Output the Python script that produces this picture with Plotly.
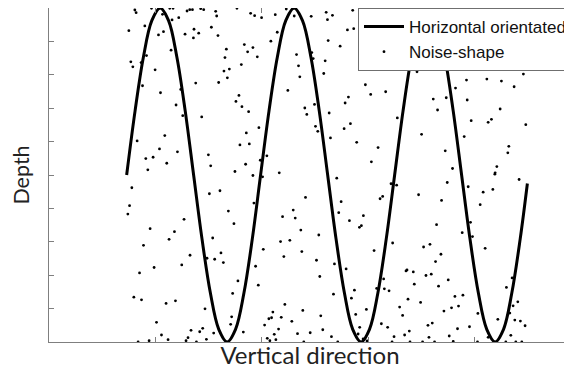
import plotly.graph_objects as go

# ---- data (x: position along vertical direction, depth: downward) ----
wave_x = [77.8, 86.2, 94.6, 103.0, 111.4, 119.8, 128.1, 136.5, 144.9, 153.3, 161.7, 170.1,
          178.5, 186.9, 195.3, 203.7, 212.0, 220.4, 228.8, 237.2, 245.6, 254.0, 262.4, 270.8,
          279.2, 287.6, 296.0, 304.3, 312.7, 321.1, 329.5, 337.9, 346.3, 354.7, 363.1, 371.5,
          379.8, 388.2, 396.6, 405.0, 413.4, 421.8, 430.2, 438.6, 447.0, 455.4, 463.7, 472.1,
          479.3]
wave_depth = [167.5, 103.4, 49.1, 12.7, 0, 12.7, 49.1, 103.4, 167.5, 231.6, 285.9, 322.3, 335, 322.3, 285.9, 231.6,
              167.5, 103.4, 49.1, 12.7, 0, 12.7, 49.1, 103.4, 167.5, 231.6, 285.9, 322.3, 335, 322.3, 285.9, 231.6,
              167.5, 103.4, 49.1, 12.7, 0, 12.7, 49.1, 103.4, 167.5, 231.6, 285.9, 322.3, 335, 322.3, 285.9, 231.6,
              176]

noise_x = [86, 87.3, 102.7, 113.7, 121, 124.3, 123.3, 130, 138.3, 141, 143.7, 152, 155, 167, 168, 188.3,
           202, 206, 96, 80, 109.7, 114.7, 136.3, 145.3, 150, 144.7, 162.7, 169.3, 122.3, 195.7, 199, 204.3,
           177.7, 82, 84, 92.3, 97.7, 106.3, 176.3, 192.7, 175.3, 180.7, 178.7, 170, 147, 93.7, 111.7, 132,
           190.3, 187.3, 193.3, 200, 127.3, 134, 153, 88.3, 116, 197.7, 191.3, 200.7, 110.7, 128.7, 97, 104.3,
           118, 159.7, 162, 99, 197, 186.3,
           213, 226.7, 237.7, 245.7, 262.7, 277.7, 284, 279, 304.3, 327.7, 228.7, 222.3, 208.7, 299, 305.3,
           279.7, 291.7, 248, 263.3, 264.7, 276.7, 250, 275.3, 251.3, 239.3, 317, 322.3, 337.3, 300, 296.7,
           256.3, 266, 258.3, 280.7, 210.3, 267, 269.3, 295.7, 302, 282, 308.3, 329.7, 323, 211.7, 218.3, 230.7,
           334.3, 347.7, 352.7, 357.7, 363.7, 367, 391.5, 432.7, 441, 446.8, 456,
           448, 367, 368.7, 475.3, 418.3, 438.7, 453.3, 466, 407.3, 385, 398, 419, 389.3, 452, 349, 423, 440,
           443.3, 477.7, 373.3, 416, 460.7, 459.7, 397, 448.7, 447, 404.3,
           83, 80.7, 79, 101.3, 94.7, 135.3, 125.7, 120.3, 141.3, 133, 105.3, 90.7, 160.7, 171.3, 179.7, 185.3,
           204.3, 205.3, 164, 172.3, 166, 174.7, 158.3, 207, 189.3, 184, 85, 92.7, 117.3, 126.7, 156.3, 107.7,
           183, 182, 142.3, 151, 154, 112.7, 139.3, 137.3, 119.3, 100.3, 89.3, 147.7, 157.7, 165, 194.7,
           214, 288.3, 257, 244.7, 234, 246.7, 252.3, 270.3, 232, 241.3, 214.7, 253.3, 235.3, 268, 209.7,
           271.3, 292.7, 290.3, 301, 311, 313, 315, 331.7, 334.3, 325.7, 286, 297.7, 285, 306, 303, 328.3,
           336, 340.7, 335.3, 236.3, 254.3, 224.3, 220.3, 223, 232.7, 243.3, 272.3, 318, 307.3, 216, 230,
           225.7, 274.3, 261.7, 249, 218.7, 221.3, 227.3, 255.3, 283, 289.3, 311.3, 309.7, 314.7, 318.7, 333,
           339.3,
           342.7, 348.3, 399, 420, 446.7, 471, 435, 444.7, 370.3, 393.3, 432, 388.3, 422.3, 414, 424.3, 344.3,
           375.3, 381.7, 392.7, 437, 387.3, 357.7, 358.7, 365, 377.7, 383, 400, 366, 390.3, 464, 458.3, 406.7,
           414.7, 359.7, 372.3, 351.3, 354.3, 403.3, 410.3, 395.7, 469.7, 465, 429.7, 461.7, 466.7, 472.3, 477,
           449.7, 379.7, 384, 409.3, 421.3, 361, 356.3, 345.7, 380.7, 401, 405, 440, 462.7, 343.7, 361.7,
           374.3, 386.3, 429.3, 457.7, 467.7, 473.7]
noise_depth = [2, 4.7, 0.3, 6.3, 0.3, 0.3, 12, 9.7, 3, 1.7, 1.7, 0.7, 1.7, 3.3, 8, 0.3,
               5.3, 7.7, 18, 22.7, 27, 23.7, 26.3, 21.3, 25.3, 30, 19.3, 27.7, 42.3, 36.7, 44, 39.7,
               41.3, 54, 59, 54.7, 47.7, 62, 49.7, 56.7, 63.3, 61.3, 70, 74.7, 75.3, 78, 85, 81.7,
               87.7, 93.7, 99, 104, 97.3, 108, 109.3, 133.3, 128, 125.3, 137.3, 136.3, 141.3, 144.3, 151, 149.7,
               155.7, 147.3, 158.3, 162.3, 156.7, 164,
               9.7, 6.7, 1, 8, 8.3, 4.3, 7.3, 11.7, 2.3, 0.7, 24.3, 33.3, 49, 22, 20.7,
               32.7, 38.3, 46.7, 44.7, 50.7, 53, 58, 65.7, 69, 82.7, 77, 86.7, 84, 89.3, 95.3,
               100.3, 96.7, 106.7, 105.3, 120, 118.7, 123.7, 121, 116, 130.3, 134.7, 140, 154.3, 152.7, 148.3, 165.3,
               2, 3, 2, 1, 0.8, 3, 0.5, 2.7, 1.7, 1.3, 1.2,
               55.7, 59.7, 64, 66.3, 72.3, 71.3, 73.3, 79, 80.3, 91.3, 90, 92.3, 102.3, 101.3, 110.3, 113, 114.7,
               111.7, 117, 126.7, 129, 138.7, 145.3, 143.3, 159, 165.3, 161,
               180.3, 198.3, 206.7, 221.3, 238, 212, 224.3, 232, 248, 257.7, 260.3, 265.7, 186.3, 183.3, 203.7, 216.3,
               168, 195.7, 230.7, 245.7, 252, 255.3, 251, 259, 273.7, 286.3, 290, 292.7, 296.3, 293.7, 301.7, 315.3,
               309.7, 317.3, 323.3, 324.7, 321.3, 328, 330.7, 333.7, 332.7, 333.7, 335, 335, 332.3, 326, 325,
               169.3, 170.7, 190, 202.7, 209.3, 210.7, 222.7, 227.7, 234.3, 233, 242, 244.3, 249.3, 253, 278,
               269.3, 194.3, 205.3, 213.3, 220, 218.3, 208.3, 191.3, 189, 243.3, 256.7, 261.7, 287, 283, 291, 281.3,
               281.7, 283.7, 271.7, 297.3, 303.3, 305, 311.7, 310.7, 310.3, 314.3, 308.7, 302.3, 307.3, 318, 322,
               327.3, 322.7, 325.7, 326.7, 331.3, 333.7, 332.7, 335, 329.7, 335, 320.3, 327, 332, 334, 316.7,
               320.3,
               176.3, 177.7, 175, 179.3, 166.7, 172, 184.7, 182, 187.3, 193, 197.3, 217.3, 215, 225.3, 229.3, 235.7,
               239.7, 237, 247, 241, 254.3, 263.7, 262.7, 264.7, 268.3, 267, 272.7, 277, 279, 270.7, 280.3, 289.3,
               288, 292, 295.3, 300, 308.3, 300.7, 299, 304, 294.7, 298.7, 306.3, 306, 313, 314, 318.7,
               312.3, 318.3, 316, 321.7, 319.7, 324, 328, 329.7, 330.3, 329, 334.3, 330.3, 328.3, 335, 335,
               335, 335, 335, 335, 335, 335]

x_ticks = [106.6, 213.2, 319.8, 426.4]
depth_ticks = [33.5, 67, 100.5, 134, 167.5, 201, 234.5, 268, 301.5]

AXIS = "#7f7f7f"

fig = go.Figure()
fig.add_trace(go.Scatter(
    x=wave_x, y=wave_depth, mode="lines", name="Horizontal orientated",
    line=dict(color="black", width=3, shape="spline", smoothing=1.0),
))
fig.add_trace(go.Scatter(
    x=noise_x, y=noise_depth, mode="markers", name="Noise-shape",
    marker=dict(color="black", size=2.8, line=dict(width=0)),
))

# page body has an 8px default margin, so the figure is 8px smaller than the window
fig.update_layout(
    width=564, height=371,
    margin=dict(l=41, r=0, t=0, b=37),
    paper_bgcolor="white", plot_bgcolor="white",
    showlegend=True,
    legend=dict(
        x=0.592, y=1.0, xanchor="left", yanchor="top",
        bgcolor="white", bordercolor="#6f6f6f", borderwidth=1,
        font=dict(family="Liberation Sans, Arial, sans-serif", size=17, color="#111"),
        itemwidth=40, tracegroupgap=0,
    ),
    xaxis=dict(
        range=[0, 523], showgrid=False, zeroline=False,
        showline=True, linecolor=AXIS, linewidth=1, mirror="ticks",
        ticks="inside", ticklen=5, tickcolor=AXIS, tickvals=x_ticks, showticklabels=False,
        title=dict(text="Vertical direction", standoff=5,
                   font=dict(family="Lato, Open Sans, sans-serif", size=24, color="#222")),
    ),
    yaxis=dict(
        range=[335, 0], showgrid=False, zeroline=False,
        showline=True, linecolor=AXIS, linewidth=1,
        ticks="inside", ticklen=5, tickcolor=AXIS, tickvals=depth_ticks, showticklabels=False,
        title=dict(text="Depth", standoff=13,
                   font=dict(family="Lato, Open Sans, sans-serif", size=21.5, color="#222")),
    ),
)

fig.write_html("out.html")
